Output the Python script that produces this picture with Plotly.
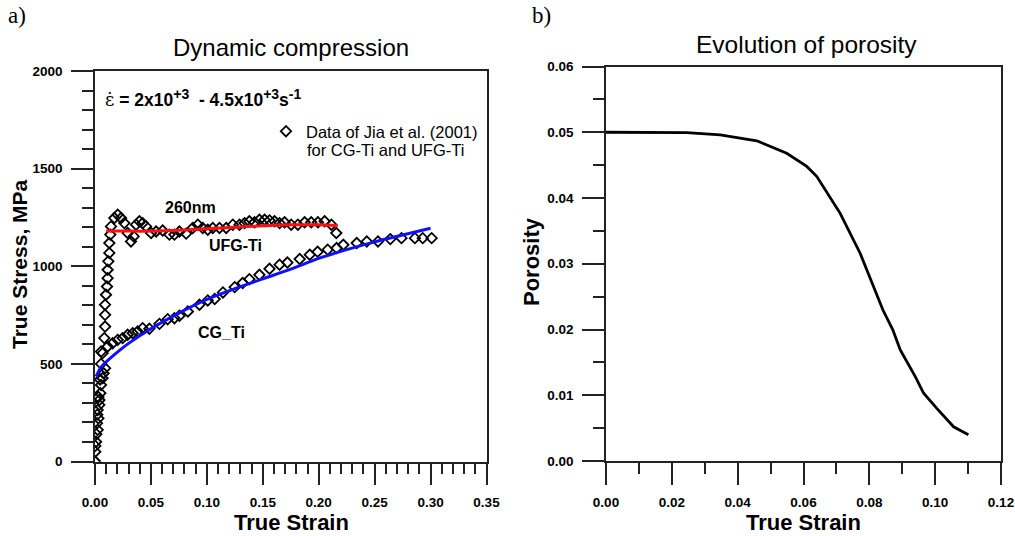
import plotly.graph_objects as go

# ---------------- data ----------------
# Panel a) experimental data (Jia et al. 2001)
cg_strain = [0.0, 0.0002, 0.0009, 0.0024, 0.0018, 0.003, 0.0024, 0.0039, 0.0039, 0.0048,
             0.0054, 0.0068, 0.0077, 0.009, 0.0068, 0.0113, 0.0158, 0.0203, 0.0247, 0.0292,
             0.0337, 0.0381, 0.0426, 0.0486, 0.0576, 0.065, 0.071, 0.0755, 0.083, 0.0934,
             0.1008, 0.107, 0.1144, 0.1249, 0.132, 0.138, 0.147, 0.156, 0.165, 0.172,
             0.183, 0.192, 0.199, 0.208, 0.216, 0.222, 0.234, 0.243, 0.253, 0.264,
             0.274, 0.286, 0.293, 0.301]
cg_stress = [0, 50, 101, 162, 196, 221, 264, 290, 315, 350,
             392, 427, 452, 478, 555, 589, 606, 623, 632, 649,
             657, 666, 683, 680, 705, 729, 734, 746, 768, 803,
             825, 832, 866, 893, 914, 934, 956, 987, 1008, 1019,
             1037, 1059, 1074, 1085, 1093, 1110, 1119, 1127, 1127, 1139,
             1144, 1144, 1144, 1144]

ufg_strain = [0.0, 0.0003, 0.0012, 0.002, 0.003, 0.0045, 0.0054, 0.0054, 0.0083, 0.009,
              0.009, 0.009, 0.0098, 0.0107, 0.0113, 0.0113, 0.0119, 0.0128, 0.0128, 0.0137,
              0.0143, 0.0173, 0.0203, 0.0233, 0.0262, 0.0292, 0.0322, 0.0346, 0.0367, 0.0397,
              0.0426, 0.0456, 0.0501, 0.0546, 0.0605, 0.0665, 0.071, 0.0755, 0.0815, 0.0874,
              0.0919, 0.0963, 0.1008, 0.1053, 0.1113, 0.1173, 0.1232, 0.1292, 0.1337, 0.138,
              0.1426, 0.147, 0.1516, 0.156, 0.1605, 0.165, 0.1695, 0.1754, 0.1814, 0.1874,
              0.1933, 0.1993, 0.2053, 0.2113, 0.2157]
ufg_stress = [0, 80, 140, 240, 330, 420, 500, 563, 632, 691,
              751, 803, 854, 896, 939, 982, 1025, 1068, 1119, 1162,
              1204, 1247, 1264, 1247, 1221, 1170, 1127, 1153, 1213, 1230,
              1221, 1204, 1170, 1178, 1183, 1162, 1162, 1178, 1167, 1196,
              1213, 1196, 1187, 1196, 1196, 1196, 1213, 1213, 1221, 1230,
              1225, 1238, 1238, 1235, 1230, 1221, 1225, 1213, 1213, 1225,
              1225, 1225, 1230, 1213, 1170]

# Panel a) model curves
ufg_fit_strain = [0.01, 0.03, 0.05, 0.075, 0.1, 0.125, 0.15, 0.175, 0.2, 0.217]
ufg_fit_stress = [1182, 1180, 1180, 1184, 1192, 1200, 1207, 1212, 1212, 1208]

cg_fit_strain = [0.0009, 0.005, 0.01, 0.02, 0.03, 0.05, 0.075, 0.1, 0.125, 0.15,
                 0.175, 0.2, 0.225, 0.25, 0.275, 0.30]
cg_fit_stress = [435, 480, 510, 560, 605, 680, 760, 830, 885, 935,
                 985, 1040, 1085, 1125, 1160, 1195]

# Panel b) porosity evolution
por_strain = [0.0, 0.0093, 0.0245, 0.0347, 0.0458, 0.0549, 0.061, 0.064, 0.0711, 0.0772,
              0.0805, 0.0841, 0.0871, 0.0894, 0.094, 0.0965, 0.1005, 0.1056, 0.1101]
porosity = [0.05, 0.04999, 0.04995, 0.0496, 0.0487, 0.0468, 0.0448, 0.0433, 0.0377, 0.0316,
            0.0275, 0.0230, 0.0200, 0.0169, 0.0128, 0.0103, 0.0080, 0.0052, 0.0040]

legend_line1 = "Data of Jia et al. (2001)"
legend_line2 = "for CG-Ti and UFG-Ti"

# ---------------- figure ----------------
W, H = 1015, 536
FONT = "Liberation Sans"


def px_x(p):
    return p / W


def px_y(p):
    return 1 - p / H


fig = go.Figure()

marker_style = dict(symbol="diamond-open", size=8, color="black", line=dict(width=1.8, color="black"))
fig.add_trace(go.Scatter(
    x=cg_strain, y=cg_stress, mode="markers", xaxis="x", yaxis="y", marker=marker_style,
    name=legend_line1, legendgroup="data", showlegend=True))
fig.add_trace(go.Scatter(
    x=ufg_strain, y=ufg_stress, mode="markers", xaxis="x", yaxis="y", marker=marker_style,
    name="UFG", legendgroup="data", showlegend=False))
fig.add_trace(go.Scatter(
    x=ufg_fit_strain, y=ufg_fit_stress, mode="lines", xaxis="x", yaxis="y",
    line=dict(color="#ff1010", width=3, shape="spline"), showlegend=False))
fig.add_trace(go.Scatter(
    x=cg_fit_strain, y=cg_fit_stress, mode="lines", xaxis="x", yaxis="y",
    line=dict(color="#1010ff", width=3, shape="spline"), showlegend=False))
fig.add_trace(go.Scatter(
    x=por_strain, y=porosity, mode="lines", xaxis="x2", yaxis="y2",
    line=dict(color="black", width=2.8), showlegend=False))

tickfont = dict(family=FONT, size=13.5, color="black", weight="bold")
axis_common = dict(
    showline=True, linecolor="#222", linewidth=1.5, mirror=True,
    ticks="outside", tickcolor="#222", tickwidth=1.5, ticklen=22,
    showgrid=False, zeroline=False, tickfont=tickfont, automargin=False,
    ticklabelstandoff=6,
)
minor_common = dict(ticklen=11, tickwidth=1.5, tickcolor="#222", ticks="outside")

fig.update_layout(
    width=W, height=H,
    margin=dict(l=0, r=0, t=0, b=0, pad=0, autoexpand=False),
    paper_bgcolor="white", plot_bgcolor="white",
    xaxis=dict(domain=[px_x(95), px_x(486.5)], range=[0, 0.35], dtick=0.05, tick0=0,
               tickformat=".2f", anchor="y", minor=dict(dtick=0.01, **minor_common),
               **axis_common),
    yaxis=dict(domain=[px_y(461.5), px_y(71)], range=[0, 2000], dtick=500, tick0=0,
               anchor="x", minor=dict(dtick=100, **minor_common),
               **axis_common),
    xaxis2=dict(domain=[px_x(606), px_x(1001)], range=[0, 0.12], dtick=0.02, tick0=0,
                tickformat=".2f", anchor="y2", minor=dict(dtick=0.01, **minor_common),
                **axis_common),
    yaxis2=dict(domain=[px_y(461), px_y(66.5)], range=[0, 0.06], dtick=0.01, tick0=0,
                tickformat=".2f", anchor="x2", minor=dict(dtick=0.005, **minor_common),
                **axis_common),
    legend=dict(x=px_x(266), y=px_y(114), xanchor="left", yanchor="top",
                bgcolor="rgba(0,0,0,0)", borderwidth=0, itemwidth=30, valign="middle",
                font=dict(family=FONT, size=16.5, color="black")),
    showlegend=True,
)

ann = []
# panel labels
ann.append(dict(text="a)", x=px_x(6), y=px_y(15), xref="paper", yref="paper",
                xanchor="left", yanchor="middle", showarrow=False,
                font=dict(family="Liberation Serif", size=23, color="black")))
ann.append(dict(text="b)", x=px_x(530), y=px_y(15), xref="paper", yref="paper",
                xanchor="left", yanchor="middle", showarrow=False,
                font=dict(family="Liberation Serif", size=23, color="black")))
# titles
ann.append(dict(text="Dynamic compression", x=px_x(291), y=px_y(47), xref="paper", yref="paper",
                xanchor="center", yanchor="middle", showarrow=False,
                font=dict(family=FONT, size=24, color="black")))
ann.append(dict(text="Evolution of porosity", x=px_x(806), y=px_y(44), xref="paper", yref="paper",
                xanchor="center", yanchor="middle", showarrow=False,
                font=dict(family=FONT, size=24.5, color="black")))
# axis titles
ann.append(dict(text="<b>True Strain</b>", x=px_x(291), y=px_y(522), xref="paper", yref="paper",
                xanchor="center", yanchor="middle", showarrow=False,
                font=dict(family=FONT, size=22, color="black")))
ann.append(dict(text="<b>True Strain</b>", x=px_x(803), y=px_y(522), xref="paper", yref="paper",
                xanchor="center", yanchor="middle", showarrow=False,
                font=dict(family=FONT, size=22, color="black")))
ann.append(dict(text="<b>True Stress, MPa</b>", x=px_x(19), y=px_y(264), xref="paper", yref="paper",
                xanchor="center", yanchor="middle", showarrow=False, textangle=-90,
                font=dict(family=FONT, size=21, color="black")))
ann.append(dict(text="<b>Porosity</b>", x=px_x(531), y=px_y(262), xref="paper", yref="paper",
                xanchor="center", yanchor="middle", showarrow=False, textangle=-90,
                font=dict(family=FONT, size=22, color="black")))
# second legend line
ann.append(dict(text=legend_line2, x=px_x(305), y=px_y(150), xref="paper", yref="paper",
                xanchor="left", yanchor="middle", showarrow=False,
                font=dict(family=FONT, size=16.5, color="black")))
# strain-rate label
sup = "<sup><span style='font-size:14px'>{}</span></sup>"
ann.append(dict(text="<span style='font-family:DejaVu Serif;font-size:18px'>\u03b5\u0307</span>"
                     "<b> = 2x10" + sup.format("+3") + "  - 4.5x10" + sup.format("+3")
                     + "s" + sup.format("-1") + "</b>",
                x=0.007, y=1862, xref="x", yref="y", xanchor="left", yanchor="middle",
                showarrow=False, font=dict(family=FONT, size=17.5, color="black")))
# curve labels
ann.append(dict(text="<b>260nm</b>", x=0.0853, y=1300, xref="x", yref="y", xanchor="center",
                yanchor="middle", showarrow=False, font=dict(family=FONT, size=16, color="black")))
ann.append(dict(text="<b>UFG-Ti</b>", x=0.1256, y=1105, xref="x", yref="y", xanchor="center",
                yanchor="middle", showarrow=False, font=dict(family=FONT, size=16, color="black")))
ann.append(dict(text="<b>CG_Ti</b>", x=0.113, y=659, xref="x", yref="y", xanchor="center",
                yanchor="middle", showarrow=False, font=dict(family=FONT, size=16, color="black")))

fig.update_layout(annotations=ann)

fig.write_html("out.html", config={"displayModeBar": False},
               post_script="document.body.style.margin='0';")
